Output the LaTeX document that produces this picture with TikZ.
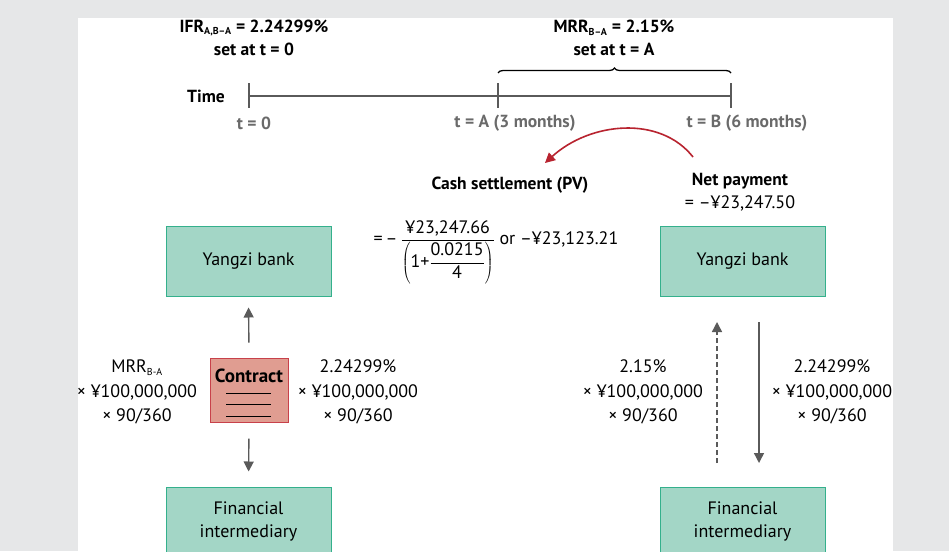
\documentclass[tikz,border=0pt]{standalone}
\usepackage{fontspec}
\setmainfont{PT Sans}
\usetikzlibrary{arrows.meta,decorations.pathreplacing}
\definecolor{bggrey}{HTML}{E6E7E8}
\definecolor{boxfill}{HTML}{A3D6C6}
\definecolor{boxline}{HTML}{34B08C}
\definecolor{cfill}{HTML}{E09D91}
\definecolor{cline}{HTML}{C8414A}
\definecolor{arrgrey}{HTML}{5A5A5A}
\definecolor{lblgrey}{HTML}{6A6A6A}
\definecolor{redarr}{HTML}{B8232F}
\newcommand{\subsm}[1]{\textsubscript{\fontsize{10}{10}\selectfont #1}}
\tikzset{
  base/.style={font=\fontsize{18}{21}\selectfont, inner sep=0pt, align=center},
  boldlbl/.style={base, font=\fontsize{17.5}{21}\selectfont\bfseries},
  greylbl/.style={boldlbl, text=lblgrey},
  gbox/.style={base, draw=boxline, fill=boxfill, line width=1pt, minimum width=165pt, minimum height=70pt},
  cbox/.style={draw=cline, fill=cfill, line width=1pt, minimum width=78pt, minimum height=64pt, inner sep=0pt},
  garrow/.style={draw=arrgrey, line width=1.4pt, -{Triangle[length=10pt,width=10pt]}},
  tline/.style={draw=arrgrey, line width=1.3pt},
  trio/.style={base, font=\fontsize{18}{24.5}\selectfont},
}
\begin{document}
\begin{tikzpicture}[x=1pt,y=-1pt]
\useasboundingbox (0,0) rectangle (949,551);
\clip (0,0) rectangle (949,551);
\fill[bggrey] (0,0) rectangle (949,551);
\fill[white] (78,18) rectangle (893,551);

% timeline
\coordinate (t0) at (249,96);
\coordinate (tA) at (498,96);
\coordinate (tB) at (731,96);
\draw[tline] (t0) -- (tB);
\draw[tline] (249,83) -- (249,108);
\draw[tline] (498,83) -- (498,108);
\draw[tline] (731,83) -- (731,108);
\node[boldlbl] (time) at (206,96) {Time};
\node[greylbl] (l0) at (254,123) {t = 0};
\node[greylbl] (lA) at (515,123) {t = A (3 months)};
\node[greylbl] (lB) at (747,123) {t = B (6 months)};

% top labels
\node[boldlbl] (ifr) at (254,28) {IFR\subsm{A,B–A} = 2.24299\%};
\node[boldlbl] (ifr2) at (254,49) {set at t = 0};
\node[boldlbl] (mrr) at (614,28) {MRR\subsm{B–A} = 2.15\%};
\node[boldlbl] (mrr2) at (614,49) {set at t = A};
\draw[black, line width=1.3pt, decorate, decoration={brace, amplitude=5pt}] (498,73) -- (731,73);

% red arrow
\coordinate (rs) at (693,157);
\coordinate (re) at (545,163);
\draw[draw=redarr, line width=1.6pt, -{Triangle[length=10pt,width=10pt]}] (rs) .. controls (660,115) and (590,122) .. (re);

% cash settlement
\node[boldlbl] (cash) at (510,185) {Cash settlement (PV)};
\node[base] (formula) at (496,252) {=\,–\,$\displaystyle\frac{\mbox{¥23,247.66}}{\left(\mbox{1+}\displaystyle\frac{\mbox{0.0215}}{\mbox{4}}\right)}$ or –¥23,123.21};
\node[boldlbl] (net) at (740,181) {Net payment};
\node[base] (net2) at (740,203) {= –¥23,247.50};

% boxes
\node[gbox] (yl) at (248.5,261) {Yangzi bank};
\node[gbox] (yr) at (742.5,261) {Yangzi bank};
\node[gbox, minimum height=68pt, font=\fontsize{18}{23}\selectfont] (fl) at (248.5,521) {Financial\\intermediary};
\node[gbox, minimum height=68pt, font=\fontsize{18}{23}\selectfont] (fr) at (742.5,521) {Financial\\intermediary};

% contract
\node[cbox] (con) at (249,390) {};
\node[boldlbl, font=\fontsize{19}{20}\selectfont\bfseries] (contxt) at (249,376) {Contract};
\draw[black, line width=0.8pt] (226,393) -- (271,393) (226,404.5) -- (271,404.5) (226,416) -- (271,416);

% left arrows
\draw[garrow, shorten <=15pt, shorten >=11pt] (con.north) -- (yl.south);
\draw[garrow, shorten <=16pt, shorten >=15pt] (con.south) -- (fl.north);

% left texts
\node[trio] (lt) at (137,392) {MRR\subsm{B-A}\\× ¥100,000,000\\× 90/360};
\node[trio] (rt) at (358,392) {2.24299\%\\× ¥100,000,000\\× 90/360};

% right arrows
\coordinate (dA) at (717,463);
\coordinate (dB) at (717,296);
\draw[garrow, dashed, dash pattern=on 5pt off 3pt, shorten >=26pt] (dA) -- (dB);
\coordinate (sA) at (759,322);
\coordinate (sB) at (759,487);
\draw[garrow, shorten >=24pt] (sA) -- (sB);
\node[trio] (rl) at (643,392) {2.15\%\\× ¥100,000,000\\× 90/360};
\node[trio] (rr) at (832,392) {2.24299\%\\× ¥100,000,000\\× 90/360};
\end{tikzpicture}
\end{document}
